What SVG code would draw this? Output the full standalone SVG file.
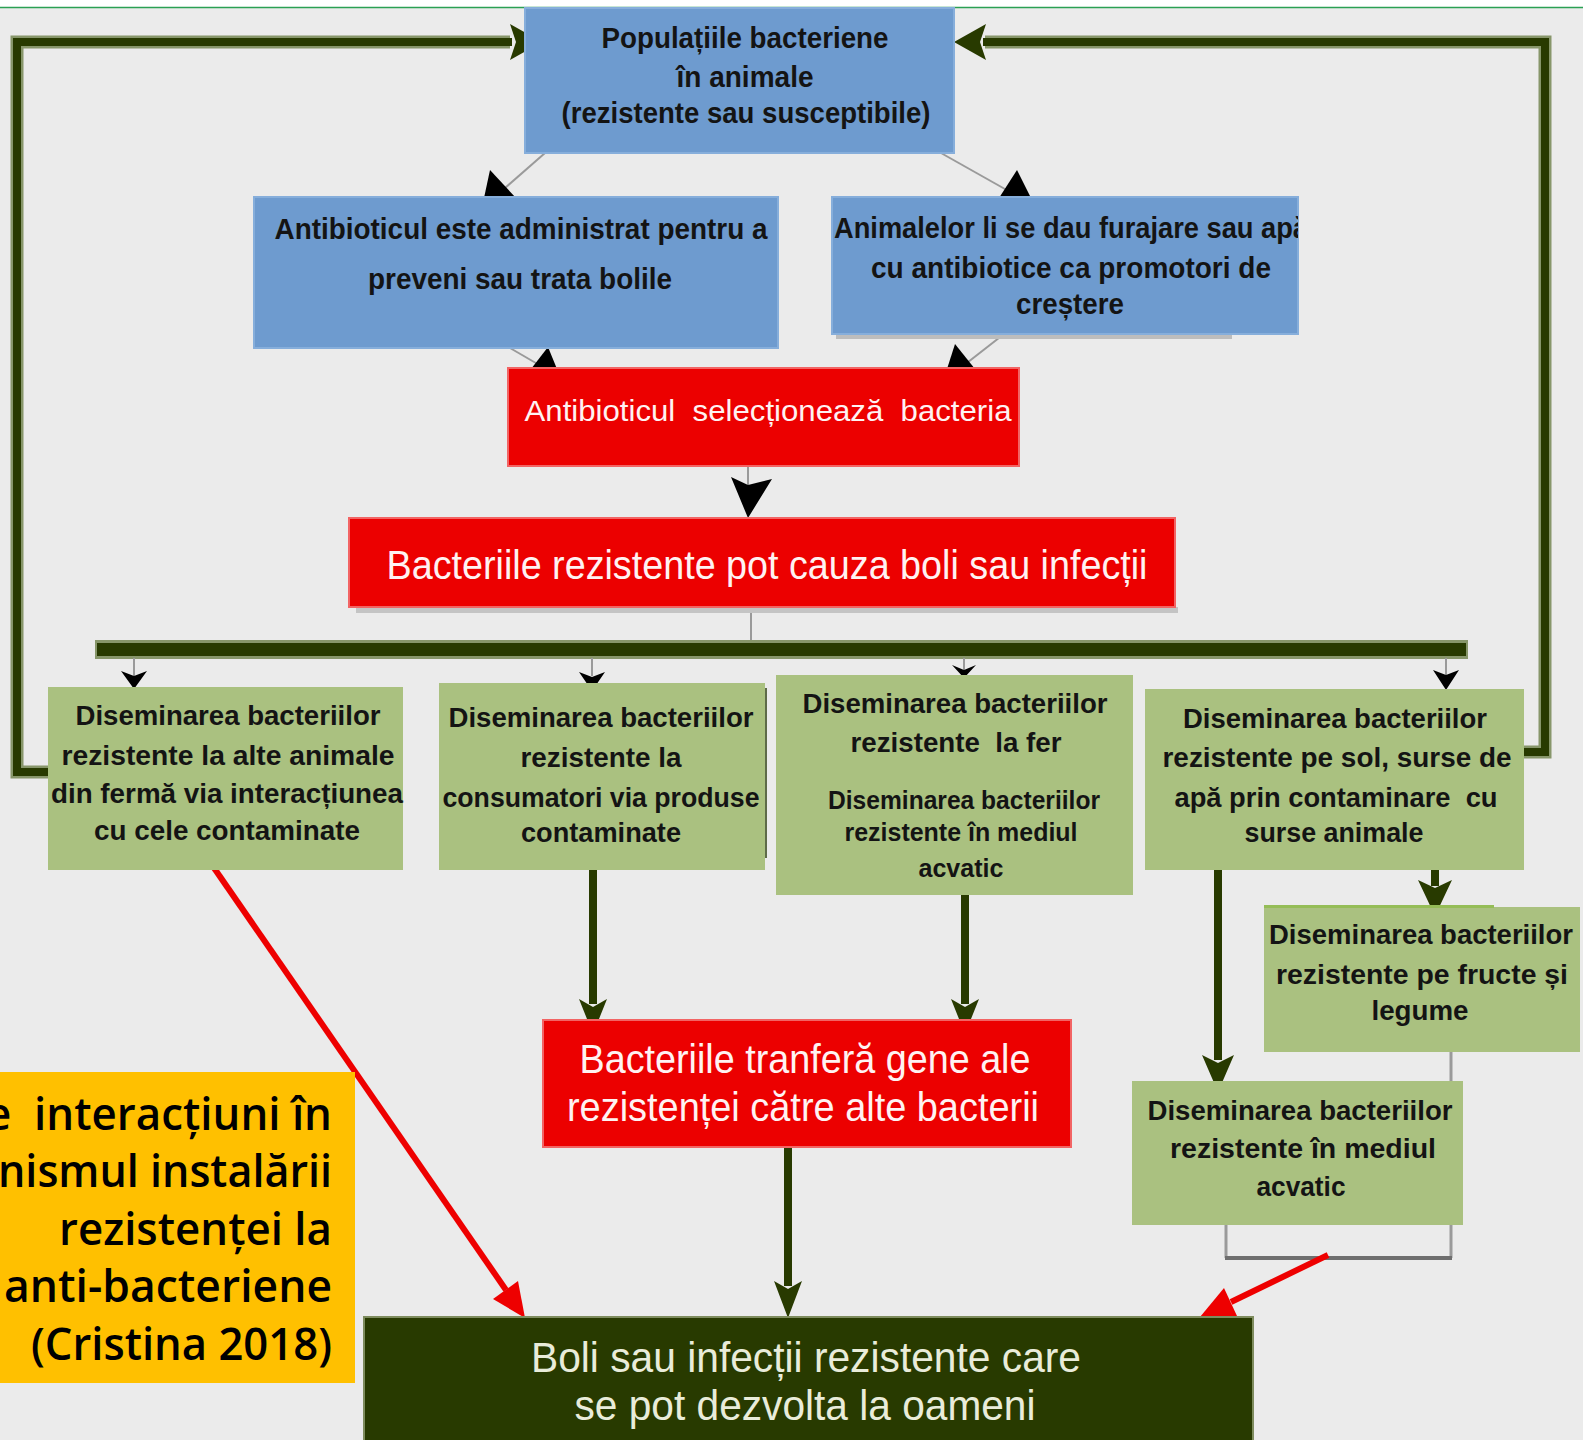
<svg xmlns="http://www.w3.org/2000/svg" width="1583" height="1440" viewBox="0 0 1583 1440">
<style>
text{font-family:"Liberation Sans",Arial,sans-serif;}
.dk{fill:#141414;font-weight:bold;text-anchor:middle;}
.b30{font-size:30px;}
.g27{font-size:27px;}
.g25{font-size:25px;}
.wt{fill:#FFF2F2;text-anchor:middle;}
.lt{fill:#E9ECDA;text-anchor:middle;}
.blue{fill:#6E9BCF;stroke:#86AEDB;stroke-width:2;}
.red{fill:#EC0000;stroke:#F26464;stroke-width:2;}
.grn{fill:#AAC180;}
.thin{stroke:#9A9A9A;stroke-width:2;fill:none;}
.halo{stroke:#87966A;stroke-width:13;fill:none;stroke-linejoin:miter;}
.core{stroke:#283A00;stroke-width:8;fill:none;stroke-linejoin:miter;}
.olive{fill:#283A00;}
.blk{fill:#000;}
.redl{stroke:#EE0000;stroke-width:6;fill:none;}
.redh{fill:#EE0000;}
.orng{font-family:"Open Sans","Liberation Sans",sans-serif;font-size:45px;font-weight:600;fill:#000;text-anchor:end;white-space:pre;}
</style>
<defs>
<clipPath id="clipR"><rect x="832" y="197" width="466" height="137"/></clipPath>
</defs>
<rect x="0" y="0" width="1583" height="1440" fill="#EBEBEB"/>
<rect x="0" y="0" width="1583" height="7" fill="#FFFFFF"/>
<line x1="0" y1="7.5" x2="1583" y2="7.5" stroke="#2BA053" stroke-width="1.5"/>

<g id="connectors">
  <!-- feedback loops -->
  <polyline class="halo" points="50,772 17,772 17,42 510,42"/>
  <polyline class="core" points="50,772 17,772 17,42 512,42"/>
  <polygon class="olive" points="510,24 542,42 510,60 516,42"/>
  <polyline class="halo" points="1522,752 1545,752 1545,42 985,42"/>
  <polyline class="core" points="1522,752 1545,752 1545,42 983,42"/>
  <polygon class="olive" points="986,24 954,42 986,60 980,42"/>

  <!-- top box to blue boxes -->
  <line class="thin" x1="545" y1="153" x2="497" y2="195"/>
  <polygon class="blk" points="490,170 484,198 516,198"/>
  <line class="thin" x1="941" y1="153" x2="1012" y2="193"/>
  <polygon class="blk" points="1017,170 999,198 1031,198"/>
  <!-- blue boxes to red1 -->
  <line class="thin" x1="510" y1="348" x2="541" y2="366"/>
  <polygon class="blk" points="548,347 531,369 557,369"/>
  <line class="thin" x1="1004" y1="334" x2="963" y2="366"/>
  <polygon class="blk" points="955,344 947,369 975,369"/>
  <!-- red1 to red2 -->
  <line class="thin" x1="748" y1="467" x2="748" y2="486"/>
  <polygon class="blk" points="731,477 748,485 772,479 748,518"/>
  <!-- red2 to bar -->
  <line class="thin" x1="751" y1="608" x2="751" y2="643"/>
  <!-- bar -->
  <rect x="95" y="640" width="1373" height="19" fill="#87966A"/>
  <rect x="97" y="643" width="1369" height="13" class="olive"/>
  <!-- bar to green boxes -->
  <line class="thin" x1="134" y1="658" x2="134" y2="676"/>
  <polygon class="blk" points="121,671 134,676 147,671 134,689"/>
  <line class="thin" x1="592" y1="658" x2="592" y2="676"/>
  <polygon class="blk" points="579,672 592,677 605,672 592,691"/>
  <line class="thin" x1="964" y1="658" x2="964" y2="670"/>
  <polygon class="blk" points="952,665 964,670 976,665 964,678"/>
  <line class="thin" x1="1446" y1="658" x2="1446" y2="676"/>
  <polygon class="blk" points="1433,670 1446,675 1459,670 1446,690"/>

  <!-- thick vertical arrows -->
  <line class="core" x1="593" y1="870" x2="593" y2="1004"/>
  <polygon class="olive" points="579,999 593,1007 607,999 593,1034"/>
  <line class="core" x1="965" y1="895" x2="965" y2="1004"/>
  <polygon class="olive" points="951,999 965,1007 979,999 965,1034"/>
  <line class="core" x1="1218" y1="870" x2="1218" y2="1060"/>
  <polygon class="olive" points="1202,1055 1218,1063 1234,1055 1218,1092"/>
  <line class="core" x1="1435" y1="870" x2="1435" y2="886"/>
  <polygon class="olive" points="1418,880 1435,888 1452,880 1435,916"/>
  <line class="core" x1="788" y1="1147" x2="788" y2="1286"/>
  <polygon class="olive" points="774,1281 788,1289 802,1281 788,1318"/>

  <!-- grey bracket -->
  <line x1="1451" y1="1052" x2="1451" y2="1258" stroke="#9A9A9A" stroke-width="3"/>
  <line x1="1226" y1="1224" x2="1226" y2="1258" stroke="#9A9A9A" stroke-width="3"/>
  <line x1="1225" y1="1258" x2="1452" y2="1258" stroke="#6E6E6E" stroke-width="4"/>

  <!-- red arrows -->
  <line class="redl" x1="212" y1="865" x2="506" y2="1290"/>
  <polygon class="redh" points="493,1299 525,1318 518,1281"/>
  <line class="redl" x1="1328" y1="1255" x2="1231" y2="1302"/>
  <polygon class="redh" points="1224,1288 1200,1317 1237,1316"/>
</g>

<g id="node-populatii">
  <rect class="blue" x="525" y="8" width="429" height="145"/>
  <text class="dk b30" x="745" y="48" textLength="287" lengthAdjust="spacingAndGlyphs">Populațiile bacteriene</text>
  <text class="dk b30" x="745" y="87" textLength="137" lengthAdjust="spacingAndGlyphs">în animale</text>
  <text class="dk b30" x="746" y="123" textLength="369" lengthAdjust="spacingAndGlyphs">(rezistente sau susceptibile)</text>
</g>

<g id="node-administrat">
  <rect class="blue" x="254" y="197" width="524" height="151"/>
  <text class="dk b30" x="521" y="239" textLength="493" lengthAdjust="spacingAndGlyphs">Antibioticul este administrat pentru a</text>
  <text class="dk b30" x="520" y="289" textLength="304" lengthAdjust="spacingAndGlyphs">preveni sau trata bolile</text>
</g>

<g id="node-furajare">
  <rect x="836" y="333" width="396" height="6" fill="#BDBDBD"/>
  <rect class="blue" x="832" y="197" width="466" height="137"/>
  <g clip-path="url(#clipR)">
    <text class="dk b30" x="834" y="238" style="text-anchor:start" textLength="474" lengthAdjust="spacingAndGlyphs">Animalelor li se dau furajare sau apă</text>
  </g>
  <text class="dk b30" x="1071" y="278" textLength="400" lengthAdjust="spacingAndGlyphs">cu antibiotice ca promotori de</text>
  <text class="dk b30" x="1070" y="314" textLength="108" lengthAdjust="spacingAndGlyphs">creștere</text>
</g>

<g id="node-selecteaza">
  <rect class="red" x="508" y="368" width="511" height="98"/>
  <text class="wt" x="768" y="421" font-size="30" style="white-space:pre" textLength="487" lengthAdjust="spacingAndGlyphs">Antibioticul  selecționează  bacteria</text>
</g>

<g id="node-cauza">
  <rect x="356" y="607" width="822" height="6" fill="#C4C4C4"/>
  <rect class="red" x="349" y="518" width="826" height="89"/>
  <text class="wt" x="767" y="579" font-size="40" textLength="761" lengthAdjust="spacingAndGlyphs">Bacteriile rezistente pot cauza boli sau infecții</text>
</g>

<g id="node-animale">
  <rect class="grn" x="48" y="687" width="355" height="183"/>
  <text class="dk g27" x="228" y="725" textLength="305" lengthAdjust="spacingAndGlyphs">Diseminarea bacteriilor</text>
  <text class="dk g27" x="228" y="765" textLength="333" lengthAdjust="spacingAndGlyphs">rezistente la alte animale</text>
  <text class="dk g27" x="227" y="803" textLength="352" lengthAdjust="spacingAndGlyphs">din fermă via interacțiunea</text>
  <text class="dk g27" x="227" y="840" textLength="266" lengthAdjust="spacingAndGlyphs">cu cele contaminate</text>
</g>

<g id="node-consumatori">
  <rect x="764" y="688" width="3" height="170" fill="#5E6B48"/>
  <rect class="grn" x="439" y="683" width="326" height="187"/>
  <text class="dk g27" x="601" y="727" textLength="305" lengthAdjust="spacingAndGlyphs">Diseminarea bacteriilor</text>
  <text class="dk g27" x="601" y="767" textLength="161" lengthAdjust="spacingAndGlyphs">rezistente la</text>
  <text class="dk g27" x="601" y="807" textLength="317" lengthAdjust="spacingAndGlyphs">consumatori via produse</text>
  <text class="dk g27" x="601" y="842" textLength="160" lengthAdjust="spacingAndGlyphs">contaminate</text>
</g>

<g id="node-fer">
  <rect class="grn" x="776" y="675" width="357" height="220"/>
  <text class="dk g27" x="955" y="713" textLength="305" lengthAdjust="spacingAndGlyphs">Diseminarea bacteriilor</text>
  <text class="dk g27" x="956" y="752" style="white-space:pre" textLength="211" lengthAdjust="spacingAndGlyphs">rezistente  la fer</text>
  <text class="dk g25" x="964" y="809" textLength="272" lengthAdjust="spacingAndGlyphs">Diseminarea bacteriilor</text>
  <text class="dk g25" x="961" y="841" textLength="233" lengthAdjust="spacingAndGlyphs">rezistente în mediul</text>
  <text class="dk g25" x="961" y="877" textLength="85" lengthAdjust="spacingAndGlyphs">acvatic</text>
</g>

<g id="node-sol">
  <rect class="grn" x="1145" y="689" width="379" height="181"/>
  <text class="dk g27" x="1335" y="728" textLength="304" lengthAdjust="spacingAndGlyphs">Diseminarea bacteriilor</text>
  <text class="dk g27" x="1337" y="767" textLength="349" lengthAdjust="spacingAndGlyphs">rezistente pe sol, surse de</text>
  <text class="dk g27" x="1336" y="807" style="white-space:pre" textLength="323" lengthAdjust="spacingAndGlyphs">apă prin contaminare  cu</text>
  <text class="dk g27" x="1334" y="842" textLength="179" lengthAdjust="spacingAndGlyphs">surse animale</text>
</g>

<g id="node-fructe">
  <rect class="grn" x="1264" y="907" width="316" height="145"/>
  <rect x="1264" y="905" width="230" height="3" fill="#95BD57"/>
  <text class="dk g27" x="1421" y="944" textLength="304" lengthAdjust="spacingAndGlyphs">Diseminarea bacteriilor</text>
  <text class="dk g27" x="1422" y="984" textLength="292" lengthAdjust="spacingAndGlyphs">rezistente pe fructe și</text>
  <text class="dk g27" x="1420" y="1020" textLength="97" lengthAdjust="spacingAndGlyphs">legume</text>
</g>

<g id="node-acvatic">
  <rect class="grn" x="1132" y="1081" width="331" height="144"/>
  <text class="dk g27" x="1300" y="1120" textLength="305" lengthAdjust="spacingAndGlyphs">Diseminarea bacteriilor</text>
  <text class="dk g27" x="1303" y="1158" textLength="266" lengthAdjust="spacingAndGlyphs">rezistente în mediul</text>
  <text class="dk g27" x="1301" y="1196" textLength="89" lengthAdjust="spacingAndGlyphs">acvatic</text>
</g>

<g id="node-transfer">
  <rect class="red" x="543" y="1020" width="528" height="127"/>
  <text class="wt" x="805" y="1073" font-size="40" textLength="451" lengthAdjust="spacingAndGlyphs">Bacteriile tranferă gene ale</text>
  <text class="wt" x="803" y="1121" font-size="40" textLength="472" lengthAdjust="spacingAndGlyphs">rezistenței către alte bacterii</text>
</g>

<g id="node-oameni">
  <rect x="363" y="1316" width="891" height="124" fill="#7E8C5E"/>
  <rect class="olive" x="365" y="1318" width="887" height="122"/>
  <text class="lt" x="806" y="1372" font-size="42" textLength="550" lengthAdjust="spacingAndGlyphs">Boli sau infecții rezistente care</text>
  <text class="lt" x="805" y="1420" font-size="42" textLength="461" lengthAdjust="spacingAndGlyphs">se pot dezvolta la oameni</text>
</g>

<g id="node-legend">
  <rect x="0" y="1072" width="355" height="311" fill="#FFC000"/>
  <text class="orng" x="332" y="1130" textLength="346" lengthAdjust="spacingAndGlyphs">e  interacțiuni în</text>
  <text class="orng" x="332" y="1187" textLength="334" lengthAdjust="spacingAndGlyphs">nismul instalării</text>
  <text class="orng" x="332" y="1245" textLength="273" lengthAdjust="spacingAndGlyphs">rezistenței la</text>
  <text class="orng" x="332" y="1302" textLength="328" lengthAdjust="spacingAndGlyphs">anti-bacteriene</text>
  <text class="orng" x="332" y="1360" textLength="301" lengthAdjust="spacingAndGlyphs">(Cristina 2018)</text>
</g>
</svg>
